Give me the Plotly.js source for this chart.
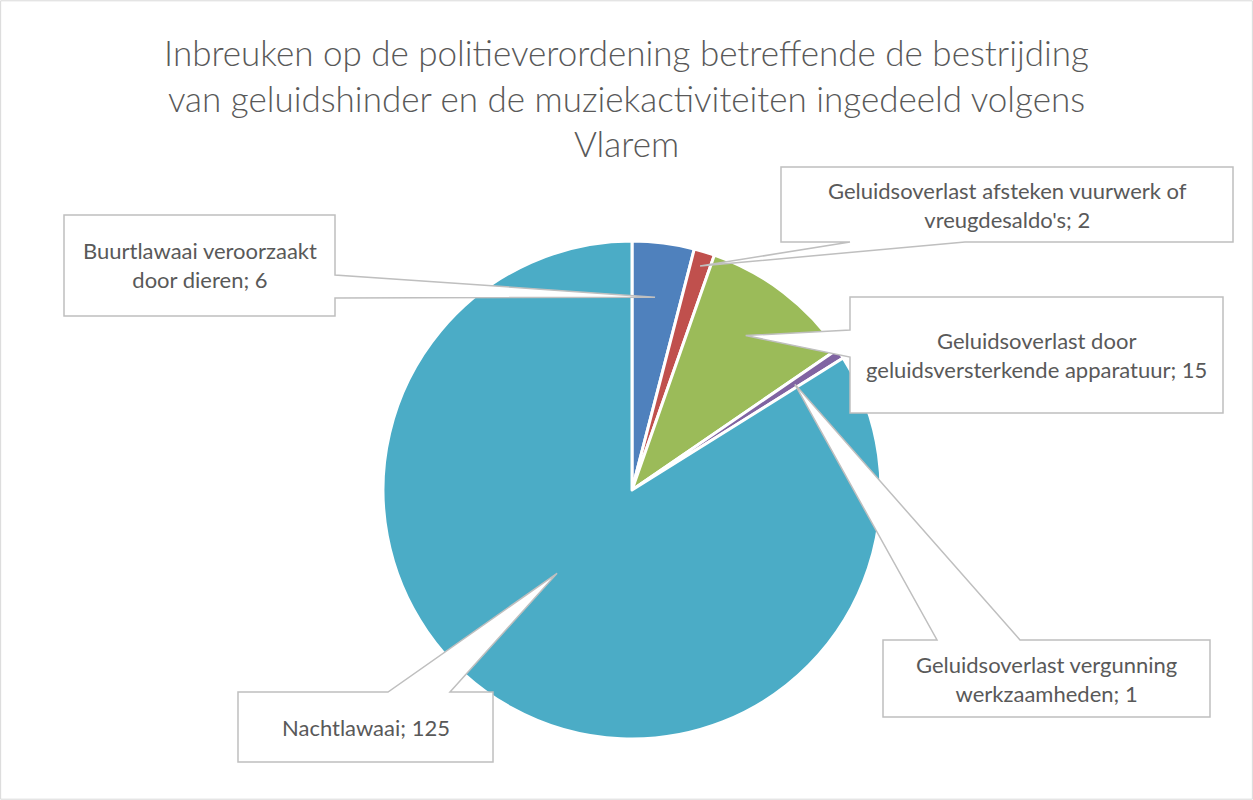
<!DOCTYPE html>
<html>
<head>
<meta charset="utf-8">
<script src="https://cdn.plot.ly/plotly-3.0.1.min.js"></script>
<style>
  html, body { margin: 0; padding: 0; background: #fff; }
  #chart { width: 1253px; height: 800px; }
</style>
</head>
<body>
<div id="chart"></div>
<script>
// data
var categories = [
  'Buurtlawaai veroorzaakt door dieren',
  'Geluidsoverlast afsteken vuurwerk of vreugdesaldo\'s',
  'Geluidsoverlast door geluidsversterkende apparatuur',
  'Geluidsoverlast vergunning werkzaamheden',
  'Nachtlawaai'
];
var values = [6, 2, 15, 1, 125];
var labelLines = [
  ['Buurtlawaai veroorzaakt', 'door dieren; '],
  ['Geluidsoverlast afsteken vuurwerk of', 'vreugdesaldo\'s; '],
  ['Geluidsoverlast door', 'geluidsversterkende apparatuur; '],
  ['Geluidsoverlast vergunning', 'werkzaamheden; '],
  ['Nachtlawaai; ']
];
var colors = ['#4F81BD', '#C0504D', '#9BBB59', '#8064A2', '#4BACC6'];

var W = 1253, H = 800;
function px(x) { return x / W; }
function py(y) { return 1 - y / H; }

// pie placement (pixels)
var cx = 632, cy = 490, R = 249;

// callout boxes: box [x0,y0,x1,y1], side of the pointer, pointer base, where in slice the tip sits
var callouts = [
  {box: [64, 215, 335, 316], side: 'right', base: [275, 298], t: 0.47, rf: 0.78},
  {box: [781, 167, 1233, 242], side: 'bottom', base: [850, 965], t: 0.5, rf: 0.94},
  {box: [850, 297, 1223, 413], side: 'left', base: [330, 357], t: 0.47, rf: 0.77},
  {box: [883, 640, 1210, 717], side: 'top', base: [937, 1020], t: 0.6, rf: 0.78},
  {box: [238, 692, 493, 762], side: 'top', base: [388, 450], t: 0.543, rf: 0.45}
];

var total = values.reduce(function (a, b) { return a + b; }, 0);
var cum = 0;
var shapes = [];
var annotations = [];

function pt(x, y) { return px(x).toFixed(5) + ',' + py(y).toFixed(5); }

callouts.forEach(function (c, i) {
  var a0 = cum / total * 360;
  cum += values[i];
  var a1 = cum / total * 360;
  var ang = (a0 + (a1 - a0) * c.t) * Math.PI / 180;
  var tx = cx + Math.sin(ang) * R * c.rf;
  var ty = cy - Math.cos(ang) * R * c.rf;
  var x0 = c.box[0], y0 = c.box[1], x1 = c.box[2], y1 = c.box[3];
  var b1 = c.base[0], b2 = c.base[1];
  var p;
  if (c.side === 'top') {
    p = ['M' + pt(x0, y0), 'L' + pt(b1, y0), 'L' + pt(tx, ty), 'L' + pt(b2, y0),
         'L' + pt(x1, y0), 'L' + pt(x1, y1), 'L' + pt(x0, y1), 'Z'];
  } else if (c.side === 'right') {
    p = ['M' + pt(x0, y0), 'L' + pt(x1, y0), 'L' + pt(x1, b1), 'L' + pt(tx, ty),
         'L' + pt(x1, b2), 'L' + pt(x1, y1), 'L' + pt(x0, y1), 'Z'];
  } else if (c.side === 'bottom') {
    p = ['M' + pt(x0, y0), 'L' + pt(x1, y0), 'L' + pt(x1, y1), 'L' + pt(b2, y1),
         'L' + pt(tx, ty), 'L' + pt(b1, y1), 'L' + pt(x0, y1), 'Z'];
  } else {
    p = ['M' + pt(x0, y0), 'L' + pt(x1, y0), 'L' + pt(x1, y1), 'L' + pt(x0, y1),
         'L' + pt(x0, b2), 'L' + pt(tx, ty), 'L' + pt(x0, b1), 'Z'];
  }
  shapes.push({
    type: 'path', xref: 'paper', yref: 'paper', layer: 'above',
    path: p.join(' '),
    fillcolor: '#ffffff', line: {color: '#bfbfbf', width: 1.5}
  });
  var lines = labelLines[i].slice();
  lines[lines.length - 1] += values[i];
  annotations.push({
    xref: 'paper', yref: 'paper',
    x: px((x0 + x1) / 2), y: py((y0 + y1) / 2),
    xanchor: 'center', yanchor: 'middle',
    text: lines.join('<br>'), showarrow: false, align: 'center',
    font: {family: 'Lato, Liberation Sans, sans-serif', size: 22, color: '#595959'}
  });
});

// chart area border
shapes.push({
  type: 'rect', xref: 'paper', yref: 'paper', x0: 0.0005, x1: 0.9995, y0: 0.001, y1: 0.999,
  line: {color: '#d9d9d9', width: 1}, layer: 'below'
});

var data = [{
  type: 'pie',
  labels: categories,
  values: values,
  sort: false,
  direction: 'clockwise',
  rotation: 0,
  textinfo: 'none',
  marker: {colors: colors, line: {color: '#ffffff', width: 3}},
  domain: {x: [px(cx - R), px(cx + R)], y: [py(cy + R), py(cy - R)]},
  showlegend: false
}];

var layout = {
  width: W, height: H,
  margin: {l: 0, r: 0, t: 0, b: 0},
  paper_bgcolor: '#ffffff',
  title: {
    text: 'Inbreuken op de politieverordening betreffende de bestrijding<br>' +
          'van geluidshinder en de muziekactiviteiten ingedeeld volgens<br>Vlarem',
    x: 0.5, xanchor: 'center', y: 1 - 66 / H, yanchor: 'top',
    font: {family: 'Lato, Liberation Sans, sans-serif', size: 35, weight: 300, color: '#595959'}
  },
  shapes: shapes,
  annotations: annotations,
  showlegend: false
};

Plotly.newPlot('chart', data, layout, {displayModeBar: false});
</script>
</body>
</html>
